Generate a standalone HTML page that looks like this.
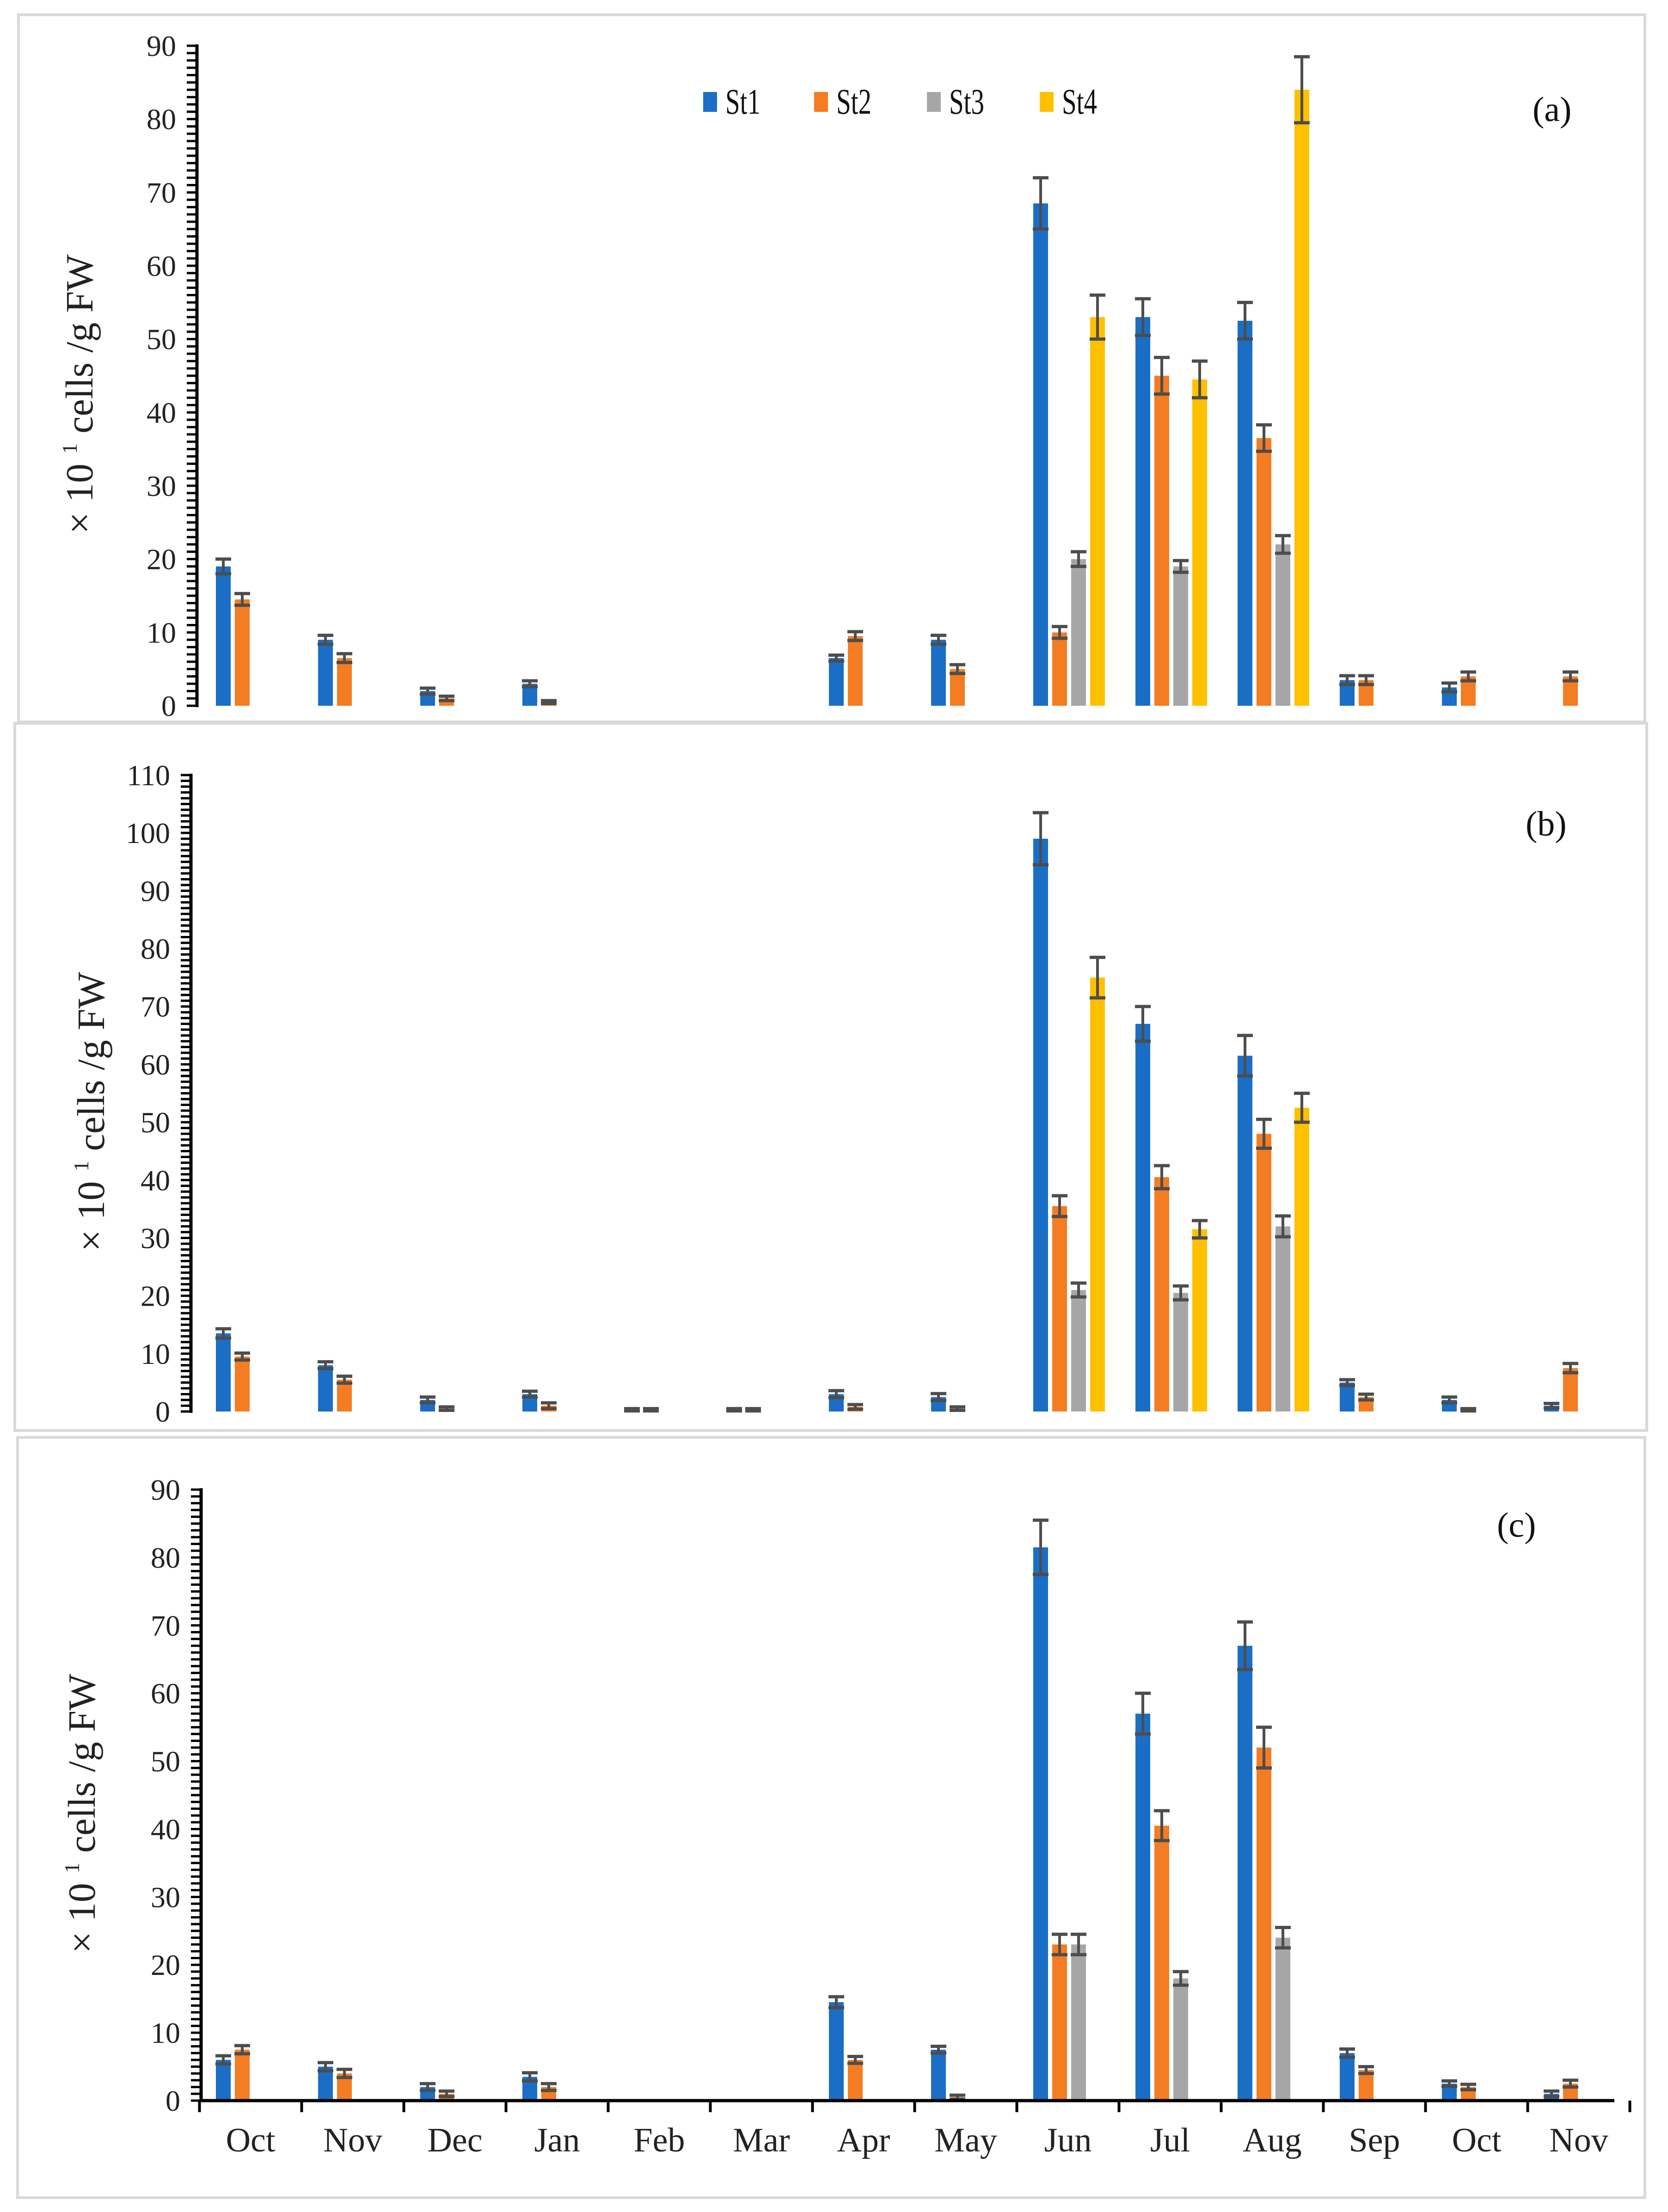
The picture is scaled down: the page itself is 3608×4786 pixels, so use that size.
<!DOCTYPE html>
<html><head><meta charset="utf-8"><style>
html,body{margin:0;padding:0;background:#fff;}
svg, svg text{font-family:"Liberation Serif","Times New Roman","DejaVu Serif",serif;}
</style></head><body>
<svg id="chart" width="3608" height="4781" viewBox="0 0 3608 4781" xmlns="http://www.w3.org/2000/svg"></svg>
<script>
const months = ["Oct","Nov","Dec","Jan","Feb","Mar","Apr","May","Jun","Jul","Aug","Sep","Oct","Nov"];
const seriesNames = ["St1","St2","St3","St4"];
const seriesColors = ["#1a6ec6","#f47c22","#a6a6a6","#ffc000"];

const aSt1 = [19,9,2,3,0,0,6.5,9,68.5,53,52.5,3.5,2.5,0];
const aSt2 = [14.5,6.5,1,0.5,0,0,9.5,5,10,45,36.5,3.5,4,4];
const aSt3 = [0,0,0,0,0,0,0,0,20,19,22,0,0,0];
const aSt4 = [0,0,0,0,0,0,0,0,53,44.5,84,0,0,0];
const aErr1 = [1,0.6,0.4,0.4,0,0,0.4,0.6,3.5,2.5,2.5,0.6,0.6,0];
const aErr2 = [0.8,0.6,0.3,0.2,0,0,0.6,0.6,0.8,2.5,1.8,0.6,0.6,0.6];
const aErr3 = [0,0,0,0,0,0,0,0,1,0.8,1.2,0,0,0];
const aErr4 = [0,0,0,0,0,0,0,0,3,2.5,4.5,0,0,0];

const bSt1 = [13.5,8,2,3,0.3,0.3,3,2.5,99,67,61.5,5,2,1];
const bSt2 = [9.5,5.5,0.5,1,0.3,0.3,0.8,0.5,35.5,40.5,48,2.5,0.3,7.5];
const bSt3 = [0,0,0,0,0,0,0,0,21,20.5,32,0,0,0];
const bSt4 = [0,0,0,0,0,0,0,0,75,31.5,52.5,0,0,0];
const bErr1 = [0.8,0.6,0.5,0.5,0.2,0.2,0.6,0.6,4.5,3,3.5,0.5,0.5,0.4];
const bErr2 = [0.6,0.6,0.3,0.5,0.2,0.2,0.4,0.3,1.8,2,2.5,0.5,0.2,0.8];
const bErr3 = [0,0,0,0,0,0,0,0,1.2,1.2,1.8,0,0,0];
const bErr4 = [0,0,0,0,0,0,0,0,3.5,1.5,2.5,0,0,0];

const cSt1 = [6,5,2,3.5,0,0,14.5,7.5,81.5,57,67,7,2.5,1];
const cSt2 = [7.5,4,1,2,0,0,6,0.5,23,40.5,52,4.5,2,2.5];
const cSt3 = [0,0,0,0,0,0,0,0,23,18,24,0,0,0];
const cSt4 = [0,0,0,0,0,0,0,0,0,0,0,0,0,0];
const cErr1 = [0.6,0.6,0.5,0.6,0,0,0.8,0.5,4,3,3.5,0.6,0.4,0.4];
const cErr2 = [0.6,0.6,0.4,0.5,0,0,0.5,0.3,1.5,2.2,3,0.5,0.4,0.5];
const cErr3 = [0,0,0,0,0,0,0,0,1.5,1,1.5,0,0,0];
const cErr4 = [0,0,0,0,0,0,0,0,0,0,0,0,0,0];

const aTicks = [0,10,20,30,40,50,60,70,80,90];
const bTicks = [0,10,20,30,40,50,60,70,80,90,100,110];
const cTicks = [0,10,20,30,40,50,60,70,80,90];

const NS = "http://www.w3.org/2000/svg";
const svg = document.getElementById("chart");
function mk(tag, attrs, parent){
  const e = document.createElementNS(NS, tag);
  for (const k in attrs) e.setAttribute(k, attrs[k]);
  if (tag === "text") e.style.fontFamily = '"Liberation Serif", "Times New Roman", "DejaVu Serif", serif';
  (parent||svg).appendChild(e);
  return e;
}
const catW = 221, cat0 = 542;
function xCenter(i){ return cat0 + i*catW; }

function panel(cfg){
  const g = mk("g",{});
  
  
  const frame = mk("rect",{x:cfg.box[0],y:cfg.box[1],width:cfg.box[2],height:cfg.box[3],fill:"none",stroke:"#d9d9d9","stroke-width":6},g);
  
  
  const ymax = cfg.ticks[cfg.ticks.length-1];
  const yScale = v => cfg.y0 - (v/ymax)*(cfg.y0-cfg.yTop);
  const ax = mk("line",{x1:cfg.axX,y1:cfg.yTop-3,x2:cfg.axX,y2:cfg.y0+3,stroke:"#000","stroke-width":7},g);
  
  
  for (let v=0; v<=ymax; v++){
    mk("line",{x1:cfg.axX-22,y1:yScale(v),x2:cfg.axX,y2:yScale(v),stroke:"#000","stroke-width":5},g);
  }
  cfg.ticks.forEach(t=>{
    const tx = mk("text",{x:cfg.axX-45,y:yScale(t)+22,"text-anchor":"end","font-size":64,fill:"#222"},g);
    tx.textContent = t;
    
    
  });
  const yt = mk("text",{transform:`translate(${cfg.titleX},${(cfg.y0+cfg.yTop)/2+40}) rotate(-90)`,"text-anchor":"middle","font-size":84,fill:"#222"},g);
  yt.innerHTML = '× 10 <tspan dy="-34" font-size="46">1</tspan><tspan dy="34">  cells /g FW</tspan>';
  
  
  cfg.series.forEach((vals,k)=>{
    const errs = cfg.errs[k];
    vals.forEach((v,i)=>{
      if (v<=0) return;
      const x = xCenter(i) - 75 + 41*k;
      const y = yScale(v);
      const r = mk("rect",{x:x,y:y,width:32,height:cfg.y0-y,fill:seriesColors[k]},g);
      
      
      const e = errs[i];
      if (e>0){
        const cx = x+16, y1 = yScale(v+e), y2 = yScale(Math.max(0,v-e));
        mk("line",{x1:cx,y1:y1,x2:cx,y2:y2,stroke:"#4d4d4d","stroke-width":6},g);
        mk("line",{x1:cx-17,y1:y1,x2:cx+17,y2:y1,stroke:"#4d4d4d","stroke-width":7},g);
        mk("line",{x1:cx-17,y1:y2,x2:cx+17,y2:y2,stroke:"#4d4d4d","stroke-width":7},g);
      }
    });
  });
  const pl = mk("text",{x:cfg.label[0],y:cfg.label[1],"font-size":76,fill:"#111"},g);
  pl.textContent = cfg.labelText;
  
  
  return {g, yScale};
}

panel({name:"panel-a",box:[40,32,3518,1530],axX:426,y0:1527,yTop:99,ticks:aTicks,titleX:200,
  series:[aSt1,aSt2,aSt3,aSt4],errs:[aErr1,aErr2,aErr3,aErr4],label:[3315,262],labelText:"(a)"});
panel({name:"panel-b",box:[32,1565,3530,1530],axX:413,y0:3054,yTop:1677,ticks:bTicks,titleX:225,
  series:[bSt1,bSt2,bSt3,bSt4],errs:[bErr1,bErr2,bErr3,bErr4],label:[3300,1808],labelText:"(b)"});
const pc = panel({name:"panel-c",box:[38,3110,3520,1645],axX:435,y0:4545,yTop:3223,ticks:cTicks,titleX:205,
  series:[cSt1,cSt2,cSt3,cSt4],errs:[cErr1,cErr2,cErr3,cErr4],label:[3238,3325],labelText:"(c)"});

const xa = mk("line",{x1:432,y1:4545,x2:3492,y2:4545,stroke:"#000","stroke-width":7},pc.g);


for (let i=0;i<=months.length;i++){
  const x = cat0 - catW/2 + i*catW;
  mk("line",{x1:x,y1:4545,x2:x,y2:4570,stroke:"#000","stroke-width":6},pc.g);
}
months.forEach((m,i)=>{
  const t = mk("text",{x:xCenter(i),y:4655,"text-anchor":"middle","font-size":74,fill:"#222"},pc.g);
  t.textContent = m;
  
  
});

const legX = [1521,1761,2005,2249];
seriesNames.forEach((n,k)=>{
  const sw = mk("rect",{x:legX[k],y:199,width:30,height:43,fill:seriesColors[k]});
  
  
  const t = mk("text",{x:legX[k]+48,y:246,"font-size":78,fill:"#111",textLength:76,lengthAdjust:"spacingAndGlyphs"});
  t.textContent = n;
  
  
});
</script>
</body></html>
